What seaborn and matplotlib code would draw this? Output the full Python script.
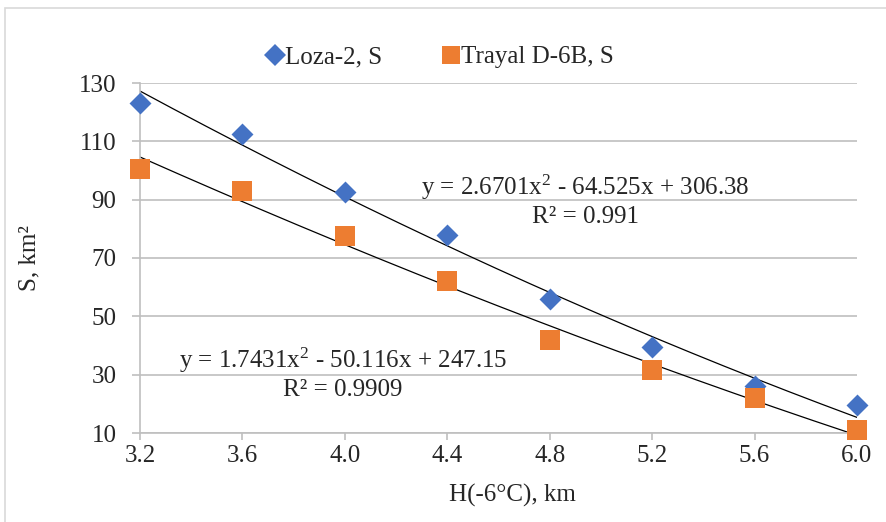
import numpy as np
import pandas as pd
import matplotlib
matplotlib.use("Agg")
import matplotlib.pyplot as plt
import seaborn as sns
from matplotlib.patches import Rectangle
from matplotlib.lines import Line2D

# ---- data ----
h_km = [3.2, 3.6, 4.0, 4.4, 4.8, 5.2, 5.6, 6.0]
loza_s = [123, 112.5, 92.5, 78, 56, 39.5, 26, 19.5]
trayal_s = [100.5, 93, 77.5, 62, 42, 31.5, 22, 11]
loza_coef = [2.6701, -64.525, 306.38]
trayal_coef = [1.7431, -50.116, 247.15]
loza_eq = "y = 2.6701x$^2$ - 64.525x + 306.38"
loza_r2 = "R² = 0.991"
trayal_eq = "y = 1.7431x$^2$ - 50.116x + 247.15"
trayal_r2 = "R² = 0.9909"
series_names = ["Loza-2, S", "Trayal D-6B, S"]
x_ticks = [3.2, 3.6, 4.0, 4.4, 4.8, 5.2, 5.6, 6.0]
y_ticks = [10, 30, 50, 70, 90, 110, 130]

BLUE = "#4472C4"
ORANGE = "#ED7D31"
GRID = "#BFBFBF"
FS = 18

sns.set_theme(style="white")
plt.rcParams['font.family'] = ['Liberation Serif', 'DejaVu Serif']
plt.rcParams['mathtext.fontset'] = 'custom'
plt.rcParams['mathtext.rm'] = 'Liberation Serif'
plt.rcParams['mathtext.it'] = 'Liberation Serif'

fig = plt.figure(figsize=(8.87, 5.22), dpi=100)
ax = fig.add_axes([140/887, 1-433/522, (857-140)/887, (433-83)/522])

# trendlines
xs = np.linspace(3.2, 6.0, 200)
ax.plot(xs, np.polyval(loza_coef, xs), color="black", lw=0.9, zorder=2)
ax.plot(xs, np.polyval(trayal_coef, xs), color="black", lw=0.9, zorder=2)

df_l = pd.DataFrame({"H": h_km, "S": loza_s})
df_t = pd.DataFrame({"H": h_km, "S": trayal_s})
sns.scatterplot(data=df_l, x="H", y="S", color=BLUE, marker="D", s=125,
                linewidth=0, ax=ax, zorder=3, legend=False, clip_on=False)
sns.scatterplot(data=df_t, x="H", y="S", color=ORANGE, marker="s", s=205,
                linewidth=0, ax=ax, zorder=3, legend=False, clip_on=False)

ax.set_xlim(3.2, 6.0)
ax.set_ylim(10, 130)
ax.set_xticks(x_ticks)
ax.set_xticklabels([f"{v:.1f}" for v in x_ticks])
ax.set_yticks(y_ticks)
ax.yaxis.grid(True, color=GRID, lw=1.2)
ax.xaxis.grid(False)
for sp in ["top", "right"]:
    ax.spines[sp].set_visible(False)
ax.spines["left"].set_color(GRID)
ax.spines["left"].set_linewidth(1.2)
ax.spines["bottom"].set_color(GRID)
ax.spines["bottom"].set_linewidth(1.2)
ax.tick_params(axis="x", bottom=True, length=5, width=1.2, color=GRID,
               labelsize=FS, pad=4)
ax.tick_params(axis="y", left=True, length=6, width=1.2, color=GRID,
               labelsize=FS, pad=11)
ax.set_xlabel("H(-6°C), km", fontsize=FS)
ax.set_ylabel("S, km²", fontsize=FS)
ax.xaxis.set_label_coords(0.519, -(484-433)/350)
ax.yaxis.set_label_coords((40-140)/717, 0.5)

fig.text(585/887, 1-187/522, loza_eq, fontsize=FS, ha="center", va="center")
fig.text(585/887, 1-217/522, loza_r2, fontsize=FS, ha="center", va="center")
fig.text(343/887, 1-360/522, trayal_eq, fontsize=FS, ha="center", va="center")
fig.text(343/887, 1-390/522, trayal_r2, fontsize=FS, ha="center", va="center")

# legend
handles = [Line2D([], [], marker="D", color=BLUE, ls="", markersize=11, markeredgewidth=0),
           Line2D([], [], marker="s", color=ORANGE, ls="", markersize=13.5, markeredgewidth=0)]
fig.legend(handles, series_names, loc="center",
           bbox_to_anchor=(439/887, 1-57/522), ncol=2, frameon=False,
           fontsize=FS, handletextpad=-0.05, columnspacing=2.3, handlelength=0.9,
           borderpad=0, borderaxespad=0)

fig.patches.append(Rectangle((5/887, -0.1), 1.0, 1-8/522+0.1, transform=fig.transFigure,
                             fill=False, edgecolor="#D9D9D9", lw=1.2, figure=fig))

fig.savefig("out.png", dpi=100)
